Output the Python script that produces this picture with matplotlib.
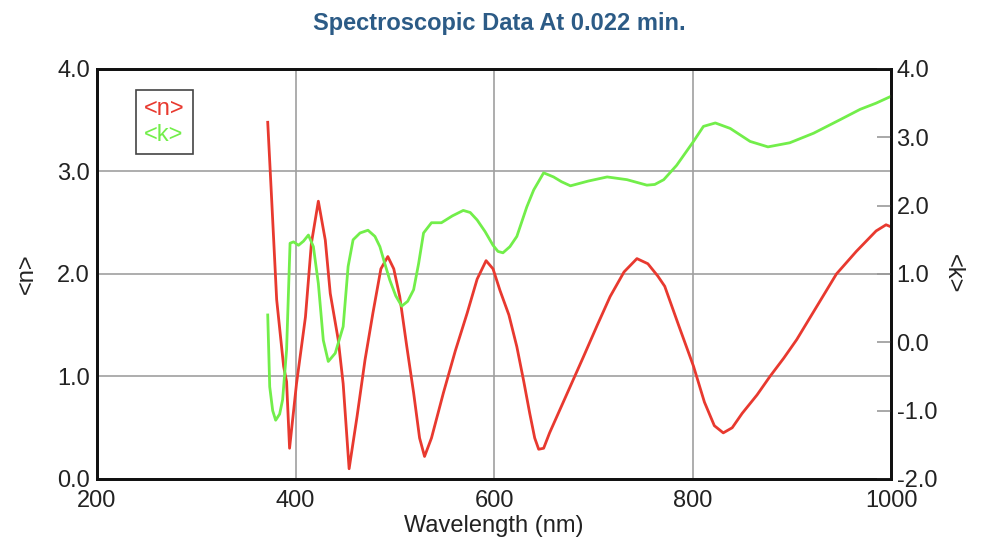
import matplotlib
matplotlib.use("Agg")
import matplotlib.pyplot as plt
from matplotlib.lines import Line2D

plt.rcParams["font.family"] = ["Liberation Sans", "DejaVu Sans"]

# <n> (left axis)
wl_n = [372, 376, 381, 388, 391, 394, 401, 410, 416, 423, 430, 435, 443, 448,
        454, 462, 470, 478, 486, 493, 499, 505, 512, 519, 525, 530, 537, 549,
        561, 573, 583, 592, 599, 606, 615, 623, 630, 636, 641, 645, 650, 656,
        673, 690, 704, 717, 731, 744, 755, 765, 772, 786, 801, 812, 822, 831,
        840, 850, 865, 878, 892, 905, 925, 945, 965, 985, 995, 1000]
n_vals = [3.48, 2.72, 1.75, 1.10, 0.95, 0.30, 0.93, 1.58, 2.30, 2.71, 2.33,
          1.81, 1.36, 0.93, 0.10, 0.61, 1.16, 1.62, 2.05, 2.17, 2.05, 1.78,
          1.30, 0.84, 0.40, 0.22, 0.40, 0.84, 1.25, 1.62, 1.95, 2.13, 2.05,
          1.84, 1.60, 1.29, 0.95, 0.64, 0.40, 0.29, 0.30, 0.45, 0.82, 1.19,
          1.50, 1.78, 2.02, 2.15, 2.10, 1.98, 1.88, 1.50, 1.10, 0.75, 0.52,
          0.45, 0.50, 0.64, 0.82, 1.00, 1.18, 1.36, 1.68, 2.00, 2.22, 2.42,
          2.48, 2.46]

# <k> (right axis)
wl_k = [372, 374, 377, 380, 384, 387, 391, 394.5, 398, 403, 408, 413, 418,
        423, 428, 433, 440, 448, 453, 458, 465, 473, 480, 485, 490, 495, 501,
        507, 513, 519, 524, 529, 537, 547, 558, 569, 576, 583, 591, 599, 604,
        609, 616, 623, 633, 640, 650, 660, 668, 677, 695, 714, 734, 754, 762,
        771, 784, 801, 811, 823, 838, 858, 876, 898, 922, 949, 969, 985, 1000]
k_vals = [0.40, -0.65, -1.00, -1.14, -1.05, -0.84, -0.11, 1.45, 1.47, 1.42,
          1.48, 1.57, 1.40, 0.86, 0.03, -0.28, -0.16, 0.23, 1.11, 1.50, 1.60,
          1.64, 1.55, 1.40, 1.15, 0.91, 0.68, 0.53, 0.60, 0.77, 1.15, 1.60,
          1.75, 1.75, 1.85, 1.93, 1.90, 1.79, 1.62, 1.42, 1.33, 1.31, 1.40,
          1.55, 1.98, 2.23, 2.48, 2.42, 2.35, 2.29, 2.36, 2.42, 2.38, 2.30,
          2.31, 2.38, 2.59, 2.94, 3.16, 3.21, 3.13, 2.94, 2.86, 2.92, 3.06,
          3.26, 3.41, 3.50, 3.60]

x_ticks = [200, 400, 600, 800, 1000]
n_ticks = [0.0, 1.0, 2.0, 3.0, 4.0]
k_ticks = [-2.0, -1.0, 0.0, 1.0, 2.0, 3.0, 4.0]

red = "#e8392f"
green = "#72ee4a"
text_color = "#222222"

fig = plt.figure(figsize=(9.84, 5.54), dpi=100)
ax = fig.add_axes([0.0986, 0.1354, 0.8069, 0.7401])
ax2 = ax.twinx()

ax.plot(wl_n, n_vals, color=red, linewidth=2)
ax2.plot(wl_k, k_vals, color=green, linewidth=2)

ax.set_xlim(200, 1000)
ax.set_ylim(0, 4)
ax2.set_ylim(-2, 4)
ax.set_xticks(x_ticks)
ax.set_yticks(n_ticks)
ax2.set_yticks(k_ticks)
ax.set_xticklabels([str(t) for t in x_ticks])
ax.set_yticklabels([f"{t:.1f}" for t in n_ticks])
ax2.set_yticklabels([f"{t:.1f}" for t in k_ticks])

ax.grid(True, color="#a0a0a0", linewidth=1.2)
ax.tick_params(axis="y", length=0, labelsize=17, pad=5, colors=text_color)
ax.tick_params(axis="x", length=0, labelsize=17, pad=8, colors=text_color)
ax2.tick_params(axis="y", direction="in", length=10, width=1.2, color="#999999",
                labelsize=17, pad=4, labelcolor=text_color)

for a in (ax, ax2):
    for s in a.spines.values():
        s.set_linewidth(2)
        s.set_color("#111111")

ax.set_xlabel("Wavelength (nm)", fontsize=17, color=text_color, labelpad=2)
ax.set_ylabel("<n>", fontsize=17, color=text_color, labelpad=14)
ax2.set_ylabel("<k>", fontsize=17, color=text_color, rotation=270, labelpad=19)

fig.suptitle("Spectroscopic Data At 0.022 min.", x=0.507, y=0.978,
             fontsize=17, fontweight="bold", color="#2c5b86")

handles = [Line2D([], [], color=red, linewidth=0),
           Line2D([], [], color=green, linewidth=0)]
leg = ax.legend(handles, ["<n>", "<k>"], loc="upper left",
                bbox_to_anchor=(0.049, 0.949), borderaxespad=0,
                handlelength=0, handletextpad=0,
                labelcolor=[red, green], fontsize=17, fancybox=False,
                edgecolor="#444444", framealpha=1, borderpad=0.35,
                labelspacing=0.15)
leg.get_frame().set_linewidth(1.2)

fig.savefig("out.png", dpi=100)
